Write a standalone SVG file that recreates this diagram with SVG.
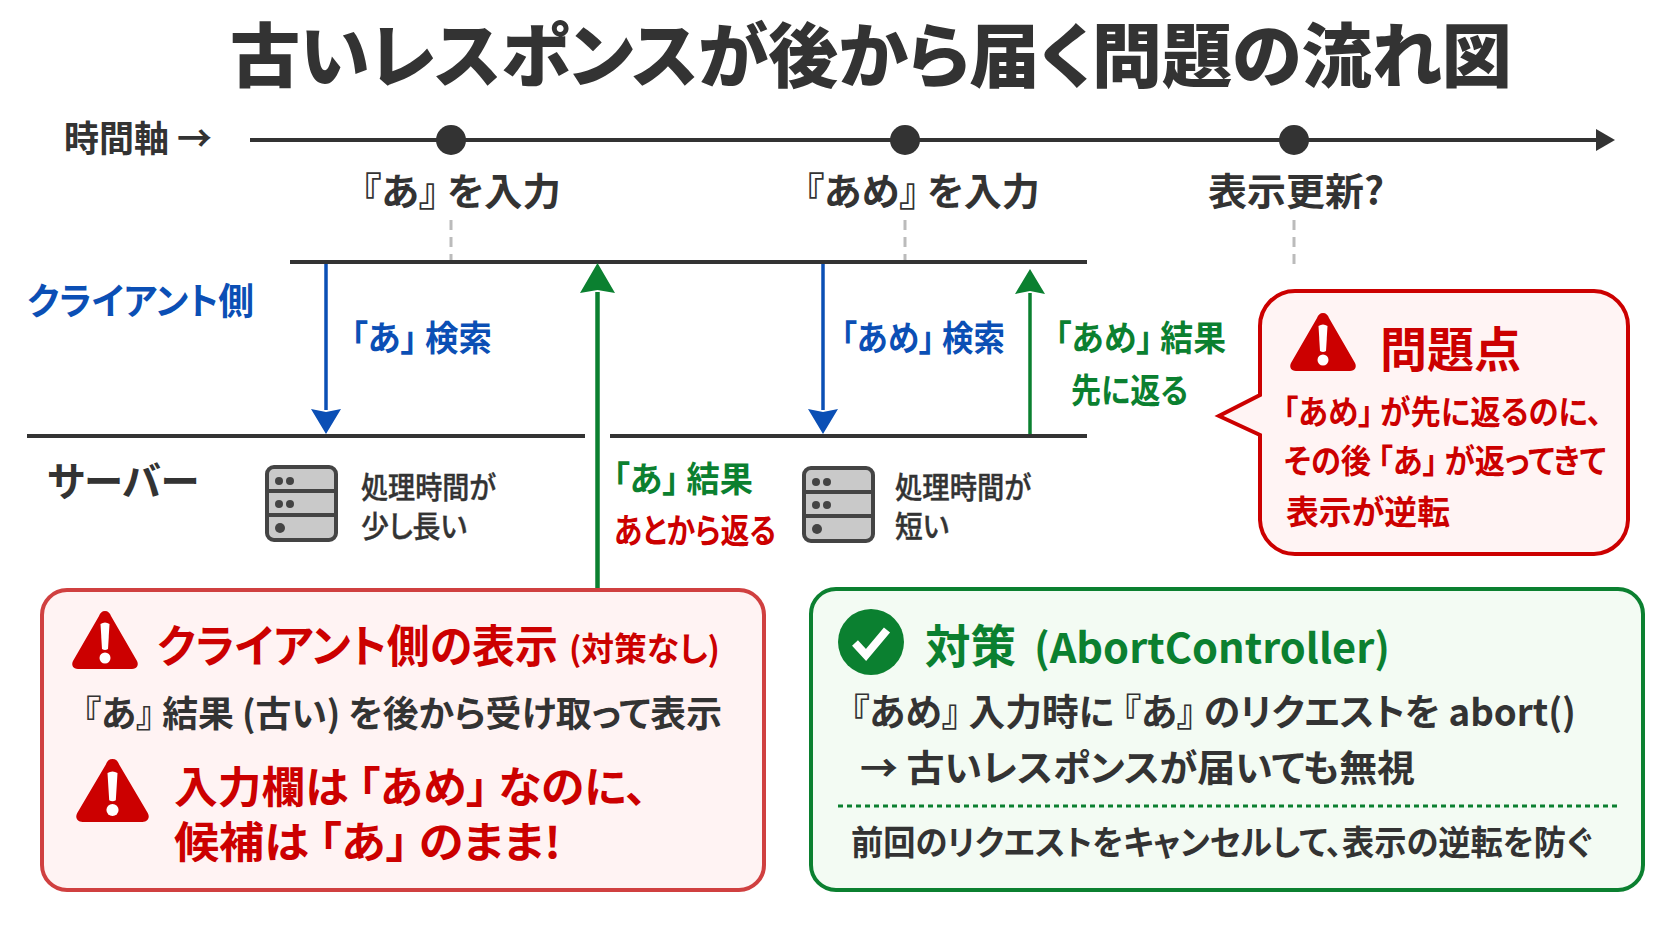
<svg xmlns="http://www.w3.org/2000/svg" width="1672" height="941" viewBox="0 0 1672 941">
<style>
text{font-family:"Noto Sans CJK JP","Noto Sans",sans-serif;font-weight:700;font-feature-settings:"palt";fill:#333}
.title{font-weight:900;font-size:70px}
.blue{fill:#0b4fb5}.green{fill:#0b8030}.red{fill:#cc0000}
.m{font-weight:500;stroke:#333;stroke-width:.4}
.line{stroke:#333;stroke-width:4;fill:none}
.guide{stroke:#bbb;stroke-width:3;stroke-dasharray:10 7;fill:none}
.srv{fill:#c9c9c9;stroke:#444;stroke-width:4}
.srvl{stroke:#444;stroke-width:4}
.dot{fill:#444}
</style>
<defs>
<marker id="hb" markerUnits="userSpaceOnUse" markerWidth="26" markerHeight="32" refX="1" refY="15" orient="auto"><path d="M0 0L25 15L0 30L3 15Z" fill="#0b4fb5"/></marker>
<marker id="hg" markerUnits="userSpaceOnUse" markerWidth="31" markerHeight="37" refX="1" refY="17.500" orient="auto"><path d="M0 0L30 17.500L0 35L3 17.500Z" fill="#0b8030"/></marker>
<marker id="hg2" markerUnits="userSpaceOnUse" markerWidth="26" markerHeight="32" refX="1" refY="15" orient="auto"><path d="M0 0L25 15L0 30L3 15Z" fill="#0b8030"/></marker>
<marker id="hk" markerUnits="userSpaceOnUse" markerWidth="20" markerHeight="24" refX="1" refY="11" orient="auto"><path d="M0 0L19 11L0 22Z" fill="#333"/></marker>
<g id="warn"><path d="M33 0C36 0 38 2 39 5L65 50C67 54 65 58 60 58H6C1 58 -1 54 1 50L27 5C28 2 30 0 33 0Z" fill="#cc0000"/><path d="M28.500 13Q33 10 37.500 13L36 38Q33 40 30 38Z" fill="#fff"/><circle cx="33" cy="47" r="5.500" fill="#fff"/></g>
<g id="server"><rect x="2" y="2" width="69" height="73" rx="7" class="srv"/><path d="M2 26H71M2 50H71" class="srvl"/><circle cx="14" cy="16" r="4" class="dot"/><circle cx="25" cy="16" r="4" class="dot"/><circle cx="14" cy="39" r="4" class="dot"/><circle cx="25" cy="39" r="4" class="dot"/><circle cx="15" cy="63" r="5" class="dot"/></g>
</defs>
<rect width="1672" height="941" fill="#fff"/>
<g id="title"><text class="title" x="230" y="82" textLength="1282" lengthAdjust="spacingAndGlyphs">古いレスポンスが後から届く問題の流れ図</text></g>

<g id="connectors">
<path class="guide" d="M451 220V262M905 220V262M1294 220V264"/>
<path class="line" d="M250 140H1597" marker-end="url(#hk)"/>
<path class="line" d="M290 262H1087M27 436H585M610 436H1087"/>
<path d="M326 264V410" stroke="#0b4fb5" stroke-width="3.500" fill="none" marker-end="url(#hb)"/>
<path d="M823 264V410" stroke="#0b4fb5" stroke-width="3.500" fill="none" marker-end="url(#hb)"/>
<path d="M597.500 590V292" stroke="#0b8030" stroke-width="4.500" fill="none" marker-end="url(#hg)"/>
<path d="M1030 434V293" stroke="#0b8030" stroke-width="3.500" fill="none" marker-end="url(#hg2)"/>
</g>

<g id="axis-label"><text x="64" y="152" font-size="36" textLength="148" lengthAdjust="spacingAndGlyphs">時間軸 →</text></g>
<g id="t1"><circle cx="451" cy="140" r="15" fill="#333"/><text x="362" y="205" font-size="38" textLength="199" lengthAdjust="spacingAndGlyphs">『あ』 を入力</text></g>
<g id="t2"><circle cx="905" cy="140" r="15" fill="#333"/><text x="805" y="205" font-size="38" textLength="235" lengthAdjust="spacingAndGlyphs">『あめ』 を入力</text></g>
<g id="t3"><circle cx="1294" cy="140" r="15" fill="#333"/><text x="1208" y="205" font-size="38" textLength="176" lengthAdjust="spacingAndGlyphs">表示更新?</text></g>

<g id="client-label"><text class="blue" x="27" y="315" font-size="37" textLength="227" lengthAdjust="spacingAndGlyphs">クライアント側</text></g>
<g id="server-label"><text x="47" y="496" font-size="40" textLength="152" lengthAdjust="spacingAndGlyphs">サーバー</text></g>

<g id="req-a"><text class="blue" x="351" y="351" font-size="35" textLength="141" lengthAdjust="spacingAndGlyphs">「あ」 検索</text></g>
<g id="req-ame"><text class="blue" x="841" y="351" font-size="35" textLength="164" lengthAdjust="spacingAndGlyphs">「あめ」 検索</text></g>
<g id="res-ame"><text class="green" x="1055" y="351" font-size="35" textLength="171" lengthAdjust="spacingAndGlyphs">「あめ」 結果</text><text class="green" x="1071" y="403" font-size="34" textLength="117" lengthAdjust="spacingAndGlyphs">先に返る</text></g>
<g id="res-a"><text class="green" x="613" y="492" font-size="35" textLength="140" lengthAdjust="spacingAndGlyphs">「あ」 結果</text><text class="red" x="614" y="543" font-size="34" textLength="162" lengthAdjust="spacingAndGlyphs">あとから返る</text></g>

<g id="server-a"><use href="#server" x="265" y="465"/><text class="m" x="361" y="498" font-size="30" textLength="135" lengthAdjust="spacingAndGlyphs">処理時間が</text><text class="m" x="361" y="537" font-size="30" textLength="106" lengthAdjust="spacingAndGlyphs">少し長い</text></g>
<g id="server-ame"><use href="#server" x="802" y="466"/><text class="m" x="895" y="498" font-size="30" textLength="136" lengthAdjust="spacingAndGlyphs">処理時間が</text><text class="m" x="895" y="537" font-size="30" textLength="54" lengthAdjust="spacingAndGlyphs">短い</text></g>

<g id="callout">
<path d="M1295 291H1594A35 35 0 0 1 1628 326V520A35 35 0 0 1 1594 554H1295A35 35 0 0 1 1260 520V435L1219 416L1260 395V326A35 35 0 0 1 1295 291Z" fill="#fff4f4" stroke="#cc0000" stroke-width="4"/>
<use href="#warn" x="1290" y="313"/>
<text class="red" x="1380" y="367" font-size="48" textLength="141" lengthAdjust="spacingAndGlyphs">問題点</text>
<text class="red" x="1283" y="424" font-size="33" textLength="319" lengthAdjust="spacingAndGlyphs">「あめ」 が先に返るのに、</text>
<text class="red" x="1284" y="473" font-size="33" textLength="322" lengthAdjust="spacingAndGlyphs">その後 「あ」 が返ってきて</text>
<text class="red" x="1286" y="524" font-size="33" textLength="164" lengthAdjust="spacingAndGlyphs">表示が逆転</text>
</g>

<g id="no-fix">
<rect x="42" y="590" width="722" height="300" rx="25" fill="#fff3f3" stroke="#d04040" stroke-width="4"/>
<use href="#warn" x="72" y="611"/>
<text class="red" x="157" y="663" font-size="45" textLength="401" lengthAdjust="spacingAndGlyphs">クライアント側の表示</text>
<text class="red" x="569" y="661" font-size="33" textLength="151" lengthAdjust="spacingAndGlyphs">(対策なし)</text>
<text x="83" y="727" font-size="36" textLength="639" lengthAdjust="spacingAndGlyphs">『あ』 結果 (古い) を後から受け取って表示</text>
<use href="#warn" transform="translate(76 759) scale(1.106 1.086)"/>
<text class="red" x="174" y="803" font-size="43" textLength="473" lengthAdjust="spacingAndGlyphs">入力欄は 「あめ」 なのに、</text>
<text class="red" x="174" y="858" font-size="43" textLength="387" lengthAdjust="spacingAndGlyphs">候補は 「あ」 のまま!</text>
</g>

<g id="fix">
<rect x="811" y="589" width="832" height="301" rx="25" fill="#f3fbf3" stroke="#0b8030" stroke-width="4"/>
<circle cx="871" cy="642" r="33" fill="#0b8030"/>
<path d="M855 643L866 655L887 630" fill="none" stroke="#fff" stroke-width="8"/>
<text class="green" x="925" y="663" font-size="46" textLength="91" lengthAdjust="spacingAndGlyphs">対策</text>
<text class="green" x="1034" y="663" font-size="41" textLength="356" lengthAdjust="spacingAndGlyphs">(AbortController)</text>
<text x="851" y="726" font-size="37" textLength="725" lengthAdjust="spacingAndGlyphs">『あめ』 入力時に 『あ』 のリクエストを abort()</text>
<text x="860" y="782" font-size="37" textLength="555" lengthAdjust="spacingAndGlyphs">→ 古いレスポンスが届いても無視</text>
<path d="M838 806H1618" stroke="#0b8030" stroke-width="3" stroke-dasharray="5 4" fill="none"/>
<text x="851" y="855" font-size="34" textLength="741" lengthAdjust="spacingAndGlyphs">前回のリクエストをキャンセルして、表示の逆転を防ぐ</text>
</g>
</svg>
